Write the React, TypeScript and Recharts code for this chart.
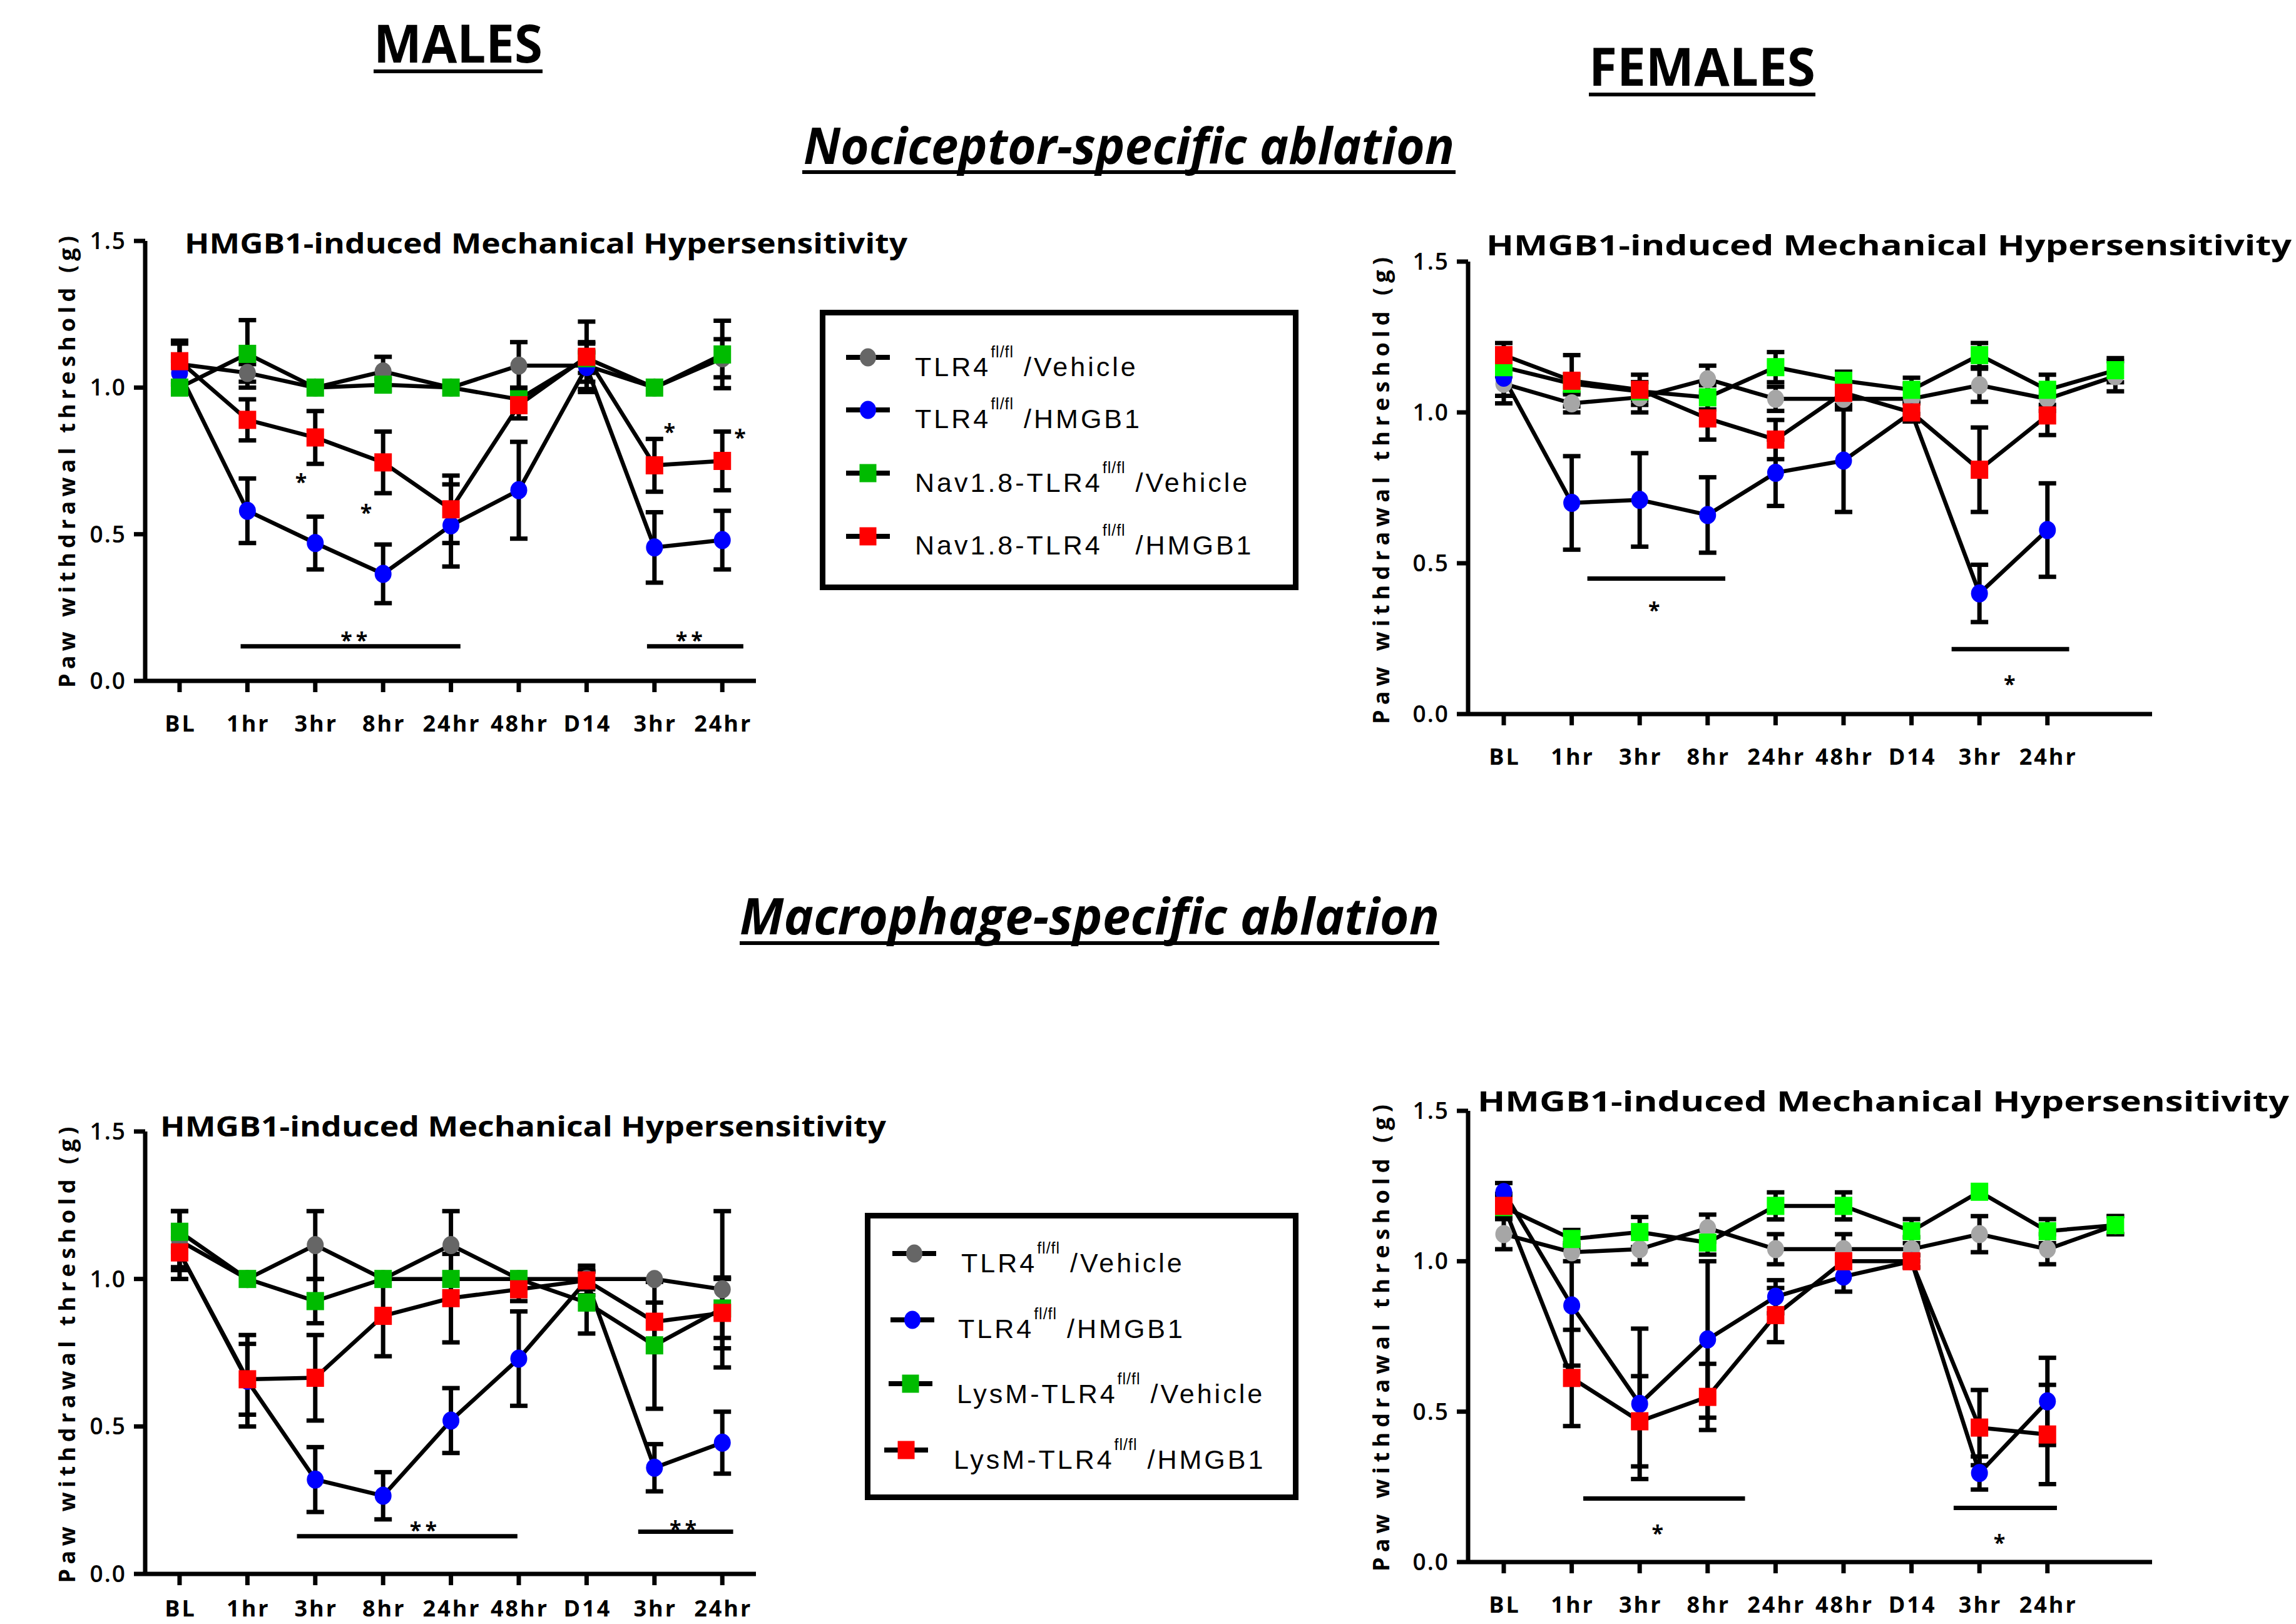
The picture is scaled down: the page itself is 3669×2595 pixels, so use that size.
import React from 'react';
import { LineChart, Line, XAxis, YAxis, ErrorBar, ReferenceLine, ReferenceDot } from 'recharts';

// ---------- categories ----------
const TIMEPOINTS = ['BL', '1hr', '3hr', '8hr', '24hr', '48hr', 'D14', '3hr', '24hr'];
const Y_TICKS = [0, 0.5, 1.0, 1.5];
const X_TICKS = [0, 1, 2, 3, 4, 5, 6, 7, 8];

// ---------- Nociceptor-specific ablation, MALES ----------
const nmVeh = [1.08, 1.05, 1.0, 1.055, 1.0, 1.075, 1.075, 1.0, 1.1];
const nmVehErr = [0.07, 0.03, 0, 0.05, 0, 0.08, 0.08, 0, 0.065];
const nmHmgb = [1.05, 0.58, 0.47, 0.365, 0.53, 0.65, 1.07, 0.455, 0.48];
const nmHmgbErr = [0.04, 0.11, 0.09, 0.1, 0.14, 0.165, 0.05, 0.12, 0.1];
const nmCkoVeh = [1.0, 1.115, 1.0, 1.01, 1.0, 0.96, 1.1, 1.0, 1.113];
const nmCkoVehErr = [0, 0.115, 0, 0.02, 0, 0.04, 0.05, 0, 0.115];
const nmCkoHmgb = [1.09, 0.89, 0.83, 0.745, 0.585, 0.94, 1.105, 0.735, 0.75];
const nmCkoHmgbErr = [0.07, 0.07, 0.09, 0.105, 0.115, 0.045, 0.12, 0.09, 0.1];

// ---------- Nociceptor-specific ablation, FEMALES ----------
const nfVeh = [1.095, 1.03, 1.05, 1.11, 1.045, 1.045, 1.045, 1.09, 1.045, 1.12];
const nfVehErr = [0.065, 0.03, 0.05, 0.045, 0.04, 0.03, 0.05, 0.055, 0.04, 0.05];
const nfHmgb = [1.115, 0.7, 0.71, 0.66, 0.8, 0.84, 1.0, 0.4, 0.61, null];
const nfHmgbErr = [0.06, 0.155, 0.155, 0.125, 0.11, 0.17, 0.03, 0.095, 0.155, null];
const nfCkoVeh = [1.15, 1.095, 1.07, 1.05, 1.15, 1.105, 1.075, 1.19, 1.075, 1.14];
const nfCkoVehErr = [0.03, 0.03, 0.03, 0.04, 0.05, 0.03, 0.04, 0.04, 0.05, 0.04];
const nfCkoHmgb = [1.19, 1.105, 1.075, 0.98, 0.91, 1.065, 1.0, 0.81, 0.99, null];
const nfCkoHmgbErr = [0.04, 0.085, 0.05, 0.07, 0.065, 0.04, 0.03, 0.14, 0.065, null];

// ---------- Macrophage-specific ablation, MALES ----------
const mmVeh = [1.13, 1.0, 1.115, 1.0, 1.115, 1.0, 1.0, 1.0, 0.965];
const mmVehErr = [0.1, 0, 0.115, 0, 0.115, 0, 0.03, 0, 0.265];
const mmHmgb = [1.09, 0.655, 0.32, 0.265, 0.52, 0.73, 0.995, 0.36, 0.445];
const mmHmgbErr = [0.09, 0.155, 0.11, 0.08, 0.11, 0.16, 0.03, 0.08, 0.105];
const mmCkoVeh = [1.16, 1.0, 0.925, 1.0, 1.0, 1.0, 0.92, 0.775, 0.9];
const mmCkoVehErr = [0.07, 0, 0.075, 0, 0, 0, 0.105, 0.215, 0.1];
const mmCkoHmgb = [1.09, 0.66, 0.665, 0.875, 0.935, 0.965, 0.995, 0.855, 0.885];
const mmCkoHmgbErr = [0.05, 0.12, 0.145, 0.137, 0.15, 0.04, 0.05, 0.065, 0.12];

// ---------- Macrophage-specific ablation, FEMALES ----------
const mfVeh = [1.09, 1.03, 1.04, 1.11, 1.04, 1.04, 1.04, 1.09, 1.04, 1.12];
const mfVehErr = [0.05, 0.03, 0.05, 0.045, 0.05, 0.05, 0.04, 0.06, 0.05, 0.03];
const mfHmgb = [1.23, 0.853, 0.526, 0.74, 0.882, 0.949, 1.0, 0.296, 0.534, null];
const mfHmgbErr = [0.03, 0.2, 0.25, 0.26, 0.055, 0.05, 0.02, 0.055, 0.145, null];
const mfCkoVeh = [1.18, 1.074, 1.097, 1.062, 1.184, 1.184, 1.1, 1.231, 1.1, 1.12];
const mfCkoVehErr = [0.03, 0.03, 0.05, 0.04, 0.045, 0.045, 0.04, 0, 0.04, 0.03];
const mfCkoHmgb = [1.184, 0.612, 0.468, 0.549, 0.821, 1.0, 1.0, 0.447, 0.424, null];
const mfCkoHmgbErr = [0.04, 0.16, 0.15, 0.11, 0.09, 0.02, 0.02, 0.125, 0.165, null];

// ---------- significance annotations (data coords) ----------
const nmSigBars = [{ x1: 0.9, x2: 4.14, y: 0.118, lx: 2.6, ly: 0.15, t: '**' }, { x1: 6.89, x2: 8.31, y: 0.118, lx: 7.54, ly: 0.15, t: '**' }];
const nmStars = [{ x: 1.79, y: 0.69 }, { x: 2.75, y: 0.585 }, { x: 7.22, y: 0.86 }, { x: 8.26, y: 0.84 }];
const nfSigBars = [{ x1: 1.23, x2: 3.26, y: 0.449, lx: 2.24, ly: 0.355, t: '*' }, { x1: 6.59, x2: 8.32, y: 0.215, lx: 7.47, ly: 0.109, t: '*' }];
const mmSigBars = [{ x1: 1.73, x2: 4.98, y: 0.128, lx: 3.62, ly: 0.159, t: '**' }, { x1: 6.76, x2: 8.16, y: 0.143, lx: 7.45, ly: 0.163, t: '**' }];
const mfSigBars = [{ x1: 1.17, x2: 3.55, y: 0.211, lx: 2.29, ly: 0.107, t: '*' }, { x1: 6.62, x2: 8.14, y: 0.18, lx: 7.32, ly: 0.075, t: '*' }];

// ---------- legend labels ----------
const legendNocPrefix = ['TLR4', 'TLR4', 'Nav1.8-TLR4', 'Nav1.8-TLR4'];
const legendMacPrefix = ['TLR4', 'TLR4', 'LysM-TLR4', 'LysM-TLR4'];
const legendSuffix = ['/Vehicle', '/HMGB1', '/Vehicle', '/HMGB1'];
const SUP = 'fl/fl';

const TITLE = 'HMGB1-induced Mechanical Hypersensitivity';
const Y_LABEL = 'Paw withdrawal threshold (g)';

const AXIS_FONT = "'Open Sans', 'DejaVu Sans', sans-serif";
const LEGEND_FONT = "'Liberation Sans', Arial, sans-serif";

const BLUE = '#0000ff';
const RED = '#ff0000';
const GRAY_DARK = '#666666';
const GRAY_LIGHT = '#a6a6a6';
const GREEN_DARK = '#00bb00';
const GREEN_LIGHT = '#00ff00';

type Series = { key: string; vals: (number | null)[]; errs: (number | null)[] };

function buildRows(series: Series[]) {
  const n = Math.max(...series.map((s) => s.vals.length));
  const rows: any[] = [];
  for (let i = 0; i < n; i++) {
    const r: any = { x: i };
    series.forEach((s) => {
      r[s.key] = s.vals[i] ?? null;
      r[s.key + 'E'] = s.errs[i] ?? null;
    });
    rows.push(r);
  }
  return rows;
}

const circleDot = (color: string) => (p: any) => {
  if (p == null || typeof p.cy !== 'number' || !isFinite(p.cy)) return <g key={`c${p?.index}`} />;
  return <ellipse key={`c${p.index}`} cx={p.cx} cy={p.cy} rx={13.5} ry={14.5} fill={color} />;
};
const squareDot = (color: string) => (p: any) => {
  if (p == null || typeof p.cy !== 'number' || !isFinite(p.cy)) return <g key={`s${p?.index}`} />;
  return <rect key={`s${p.index}`} x={p.cx - 14} y={p.cy - 14.5} width={28} height={29} fill={color} />;
};

const makeXTick = (dy: number) => (props: any) => {
  const { x, y, payload } = props;
  const label = TIMEPOINTS[payload.value] ?? '';
  return (
    <text x={x + 1.5} y={y + dy} textAnchor="middle" fontFamily={AXIS_FONT} fontWeight={700} fontSize={36} letterSpacing={3} fill="#000">
      {label}
    </text>
  );
};
function YTick(props: any) {
  const { x, y, payload } = props;
  return (
    <text x={x - 12} y={y + 13} textAnchor="end" fontFamily={AXIS_FONT} fontWeight={600} fontSize={37} letterSpacing={2} fill="#000">
      {Number(payload.value).toFixed(1)}
    </text>
  );
}

type Rect = { left: number; top: number; right: number; bottom: number; xMin: number; xMax: number; tickDy: number };

function Panel({ rect, rows, gray, green, sigs, stars }: { rect: Rect; rows: any[]; gray: string; green: string; sigs: any[]; stars: any[] }) {
  const padL = 200, padT = 60, padR = 60, padB = 160;
  const yAxisW = 100, xAxisH = 100;
  const width = rect.right - rect.left + padL + padR;
  const height = rect.bottom - rect.top + padT + padB;
  const lw = 6.5;
  const eb = { direction: 'y' as const, width: 14, strokeWidth: 7, stroke: '#000' };
  const XTick = makeXTick(rect.tickDy);
  return (
    <div style={{ position: 'absolute', left: rect.left - padL, top: rect.top - padT }}>
      <LineChart width={width} height={height} data={rows} margin={{ top: padT, left: padL - yAxisW, right: padR, bottom: padB - xAxisH }}>
        <XAxis
          type="number"
          dataKey="x"
          domain={[rect.xMin, rect.xMax]}
          ticks={X_TICKS}
          interval={0}
          height={xAxisH}
          tick={XTick}
          tickSize={18}
          tickMargin={0}
          axisLine={{ stroke: '#000', strokeWidth: 7 }}
          tickLine={{ stroke: '#000', strokeWidth: 7 }}
          allowDataOverflow
        />
        <YAxis
          type="number"
          domain={[0, 1.5]}
          ticks={Y_TICKS}
          interval={0}
          width={yAxisW}
          tick={<YTick />}
          tickSize={18}
          tickMargin={0}
          axisLine={{ stroke: '#000', strokeWidth: 7 }}
          tickLine={{ stroke: '#000', strokeWidth: 7 }}
          allowDataOverflow
        />
        {sigs.map((s, i) => (
          <ReferenceLine key={`sl${i}`} segment={[{ x: s.x1, y: s.y }, { x: s.x2, y: s.y }]} stroke="#000" strokeWidth={7} ifOverflow="visible" />
        ))}
        {sigs.map((s, i) => (
          <ReferenceDot
            key={`st${i}`}
            x={s.lx}
            y={s.ly}
            r={0}
            ifOverflow="visible"
            shape={(p: any) => (
              <text x={p.cx} y={p.cy + 17} textAnchor="middle" fontFamily={AXIS_FONT} fontWeight={700} fontSize={34} letterSpacing={6} fill="#000">
                {s.t}
              </text>
            )}
          />
        ))}
        {stars.map((s, i) => (
          <ReferenceDot
            key={`sx${i}`}
            x={s.x}
            y={s.y}
            r={0}
            ifOverflow="visible"
            shape={(p: any) => (
              <text x={p.cx} y={p.cy + 17} textAnchor="middle" fontFamily={AXIS_FONT} fontWeight={700} fontSize={34} fill="#000">
                *
              </text>
            )}
          />
        ))}
        <Line type="linear" dataKey="veh" stroke="#000" strokeWidth={lw} dot={circleDot(gray)} activeDot={false} isAnimationActive={false}>
          <ErrorBar dataKey="vehE" {...eb} />
        </Line>
        <Line type="linear" dataKey="hmgb" stroke="#000" strokeWidth={lw} dot={circleDot(BLUE)} activeDot={false} isAnimationActive={false}>
          <ErrorBar dataKey="hmgbE" {...eb} />
        </Line>
        <Line type="linear" dataKey="ckoVeh" stroke="#000" strokeWidth={lw} dot={squareDot(green)} activeDot={false} isAnimationActive={false}>
          <ErrorBar dataKey="ckoVehE" {...eb} />
        </Line>
        <Line type="linear" dataKey="ckoHmgb" stroke="#000" strokeWidth={lw} dot={squareDot(RED)} activeDot={false} isAnimationActive={false}>
          <ErrorBar dataKey="ckoHmgbE" {...eb} />
        </Line>
      </LineChart>
    </div>
  );
}

function LegendBox({ box, prefixes, mx, my, tx, ty }: { box: { x: number; y: number; w: number; h: number }; prefixes: string[]; mx: number[]; my: number[]; tx: number[]; ty: number[] }) {
  const colors = [GRAY_DARK, BLUE, GREEN_DARK, RED];
  return (
    <g>
      <rect x={box.x + 4.5} y={box.y + 4.5} width={box.w - 9} height={box.h - 9} fill="#fff" stroke="#000" strokeWidth={9} />
      {prefixes.map((pre, i) => (
        <g key={i}>
          <rect x={mx[i] - 35} y={my[i] - 4} width={70} height={8} fill="#000" />
          {i < 2 ? (
            <ellipse cx={mx[i]} cy={my[i]} rx={13} ry={14.5} fill={colors[i]} />
          ) : (
            <rect x={mx[i] - 13.5} y={my[i] - 14.5} width={27} height={29} fill={colors[i]} />
          )}
          <text x={tx[i]} y={ty[i]} fontFamily={LEGEND_FONT} fontSize={43} letterSpacing={4} fill="#000">
            <tspan>{pre}</tspan>
            <tspan dy={-30} fontSize={25} letterSpacing={1}>{SUP}</tspan>
            <tspan dy={30}>{' ' + legendSuffix[i]}</tspan>
          </text>
        </g>
      ))}
    </g>
  );
}

const P1: Rect = { left: 232, top: 385, right: 1208, bottom: 1088, xMin: -0.507, xMax: 8.496, tickDy: 63 };
const P2: Rect = { left: 2346, top: 418, right: 3439, bottom: 1141, xMin: -0.525, xMax: 9.54, tickDy: 63 };
const P3: Rect = { left: 232, top: 1808, right: 1208, bottom: 2515, xMin: -0.507, xMax: 8.496, tickDy: 50 };
const P4: Rect = { left: 2346, top: 1775, right: 3439, bottom: 2496, xMin: -0.525, xMax: 9.54, tickDy: 63 };

export default function App() {
  const rows1 = buildRows([
    { key: 'veh', vals: nmVeh, errs: nmVehErr },
    { key: 'hmgb', vals: nmHmgb, errs: nmHmgbErr },
    { key: 'ckoVeh', vals: nmCkoVeh, errs: nmCkoVehErr },
    { key: 'ckoHmgb', vals: nmCkoHmgb, errs: nmCkoHmgbErr },
  ]);
  const rows2 = buildRows([
    { key: 'veh', vals: nfVeh, errs: nfVehErr },
    { key: 'hmgb', vals: nfHmgb, errs: nfHmgbErr },
    { key: 'ckoVeh', vals: nfCkoVeh, errs: nfCkoVehErr },
    { key: 'ckoHmgb', vals: nfCkoHmgb, errs: nfCkoHmgbErr },
  ]);
  const rows3 = buildRows([
    { key: 'veh', vals: mmVeh, errs: mmVehErr },
    { key: 'hmgb', vals: mmHmgb, errs: mmHmgbErr },
    { key: 'ckoVeh', vals: mmCkoVeh, errs: mmCkoVehErr },
    { key: 'ckoHmgb', vals: mmCkoHmgb, errs: mmCkoHmgbErr },
  ]);
  const rows4 = buildRows([
    { key: 'veh', vals: mfVeh, errs: mfVehErr },
    { key: 'hmgb', vals: mfHmgb, errs: mfHmgbErr },
    { key: 'ckoVeh', vals: mfCkoVeh, errs: mfCkoVehErr },
    { key: 'ckoHmgb', vals: mfCkoHmgb, errs: mfCkoHmgbErr },
  ]);

  const titleProps = { fontFamily: AXIS_FONT, fontWeight: 700, fontSize: 44, fill: '#000', lengthAdjust: 'spacingAndGlyphs' as const };
  const yLabProps = { fontFamily: AXIS_FONT, fontWeight: 700, fontSize: 36, fill: '#000', textAnchor: 'middle' as const, lengthAdjust: 'spacing' as const };
  const headProps = { fontFamily: AXIS_FONT, fontWeight: 700, fill: '#000', lengthAdjust: 'spacingAndGlyphs' as const };

  return (
    <div style={{ position: 'absolute', left: 0, top: 0, width: 3669, height: 2595, background: '#fff', overflow: 'hidden' }}>
      <Panel rect={P1} rows={rows1} gray={GRAY_DARK} green={GREEN_DARK} sigs={nmSigBars} stars={nmStars} />
      <Panel rect={P2} rows={rows2} gray={GRAY_LIGHT} green={GREEN_LIGHT} sigs={nfSigBars} stars={[]} />
      <Panel rect={P3} rows={rows3} gray={GRAY_DARK} green={GREEN_DARK} sigs={mmSigBars} stars={[]} />
      <Panel rect={P4} rows={rows4} gray={GRAY_LIGHT} green={GREEN_LIGHT} sigs={mfSigBars} stars={[]} />
      <svg width={3669} height={2595} style={{ position: 'absolute', left: 0, top: 0, pointerEvents: 'none' }}>
        {/* headers */}
        <text x={597} y={100} fontSize={85} textLength={270} {...headProps}>MALES</text>
        <rect x={597} y={111} width={270} height={6} fill="#000" />
        <text x={2539} y={137} fontSize={85} textLength={362} {...headProps}>FEMALES</text>
        <rect x={2539} y={148} width={362} height={6} fill="#000" />
        <text x={1284} y={262} fontSize={80} fontStyle="italic" textLength={1040} {...headProps}>Nociceptor-specific ablation</text>
        <rect x={1282} y={272} width={1044} height={6} fill="#000" />
        <text x={1182} y={1493} fontSize={80} fontStyle="italic" textLength={1118} {...headProps}>Macrophage-specific ablation</text>
        <rect x={1182} y={1504} width={1118} height={6} fill="#000" />

        {/* panel titles */}
        <text x={295} y={405} textLength={1155} {...titleProps}>{TITLE}</text>
        <text x={2375} y={408} textLength={1287} {...titleProps}>{TITLE}</text>
        <text x={256} y={1816} textLength={1160} {...titleProps}>{TITLE}</text>
        <text x={2361} y={1776} textLength={1297} {...titleProps}>{TITLE}</text>

        {/* y-axis labels */}
        <text transform="translate(120,738) rotate(-90)" textLength={722} {...yLabProps}>{Y_LABEL}</text>
        <text transform="translate(2220,784) rotate(-90)" textLength={746} {...yLabProps}>{Y_LABEL}</text>
        <text transform="translate(120,2165) rotate(-90)" textLength={729} {...yLabProps}>{Y_LABEL}</text>
        <text transform="translate(2220,2138) rotate(-90)" textLength={746} {...yLabProps}>{Y_LABEL}</text>

        {/* legends */}
        <LegendBox
          box={{ x: 1310, y: 495, w: 765, h: 448 }}
          prefixes={legendNocPrefix}
          mx={[1387, 1387, 1387, 1387]}
          my={[571, 655, 756, 857]}
          tx={[1462, 1462, 1462, 1462]}
          ty={[601, 684, 786, 886]}
        />
        <LegendBox
          box={{ x: 1382, y: 1938, w: 693, h: 459 }}
          prefixes={legendMacPrefix}
          mx={[1461, 1458, 1455, 1448]}
          my={[2003, 2109, 2211, 2317]}
          tx={[1536, 1531, 1529, 1524]}
          ty={[2033, 2138, 2242, 2347]}
        />
      </svg>
    </div>
  );
}
